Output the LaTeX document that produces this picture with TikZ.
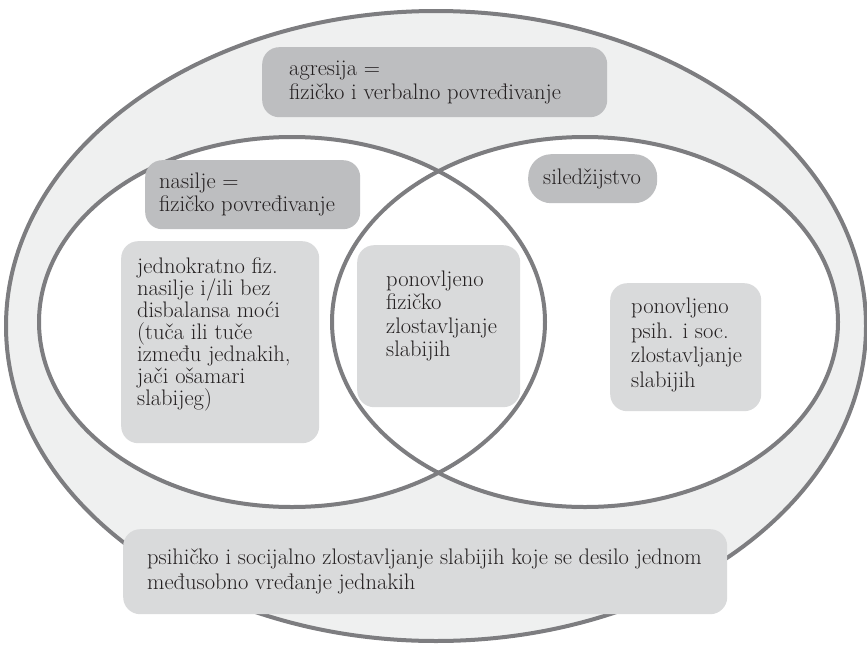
\documentclass[tikz,border=0pt]{standalone}
\usepackage{tikz}
\usetikzlibrary{positioning}
\definecolor{ringgr}{rgb}{0.49,0.49,0.5}
\definecolor{bandgr}{rgb}{0.937,0.941,0.941}
\definecolor{darkgr}{rgb}{0.741,0.745,0.753}
\definecolor{lightgr}{rgb}{0.851,0.855,0.859}
\definecolor{txtbl}{rgb}{0.137,0.122,0.125}
\tikzstyle{every node}=[font=\fontsize{22.5}{23.5}\selectfont]
\tikzstyle{ring}=[line width=4pt,color=ringgr]
\tikzstyle{darkbox}=[fill=darkgr,rounded corners=17pt,inner sep=0pt,anchor=north west]
\tikzstyle{lightbox}=[fill=lightgr,rounded corners=17pt,inner sep=0pt,anchor=north west]
\tikzstyle{txt}=[align=left,inner sep=0pt,text=txtbl]

\begin{document}
\begin{tikzpicture}[line cap=round,line join=round,x=1pt,y=-1pt]
                \useasboundingbox (0,0) rectangle (867,645);
                \draw [ring,fill=bandgr] (436,326) ellipse [x radius=430pt, y radius=315pt];
                \fill [white] (292,322) ellipse [x radius=253pt, y radius=185pt];
                \fill [white] (585,322) ellipse [x radius=253pt, y radius=185pt];
                \draw [ring] (292,322) ellipse [x radius=253pt, y radius=185pt];
                \draw [ring] (585,322) ellipse [x radius=253pt, y radius=185pt];
                \node [darkbox,minimum width=345pt,minimum height=70pt] (agrbox) at (262,47) {};
                \node [txt,right=27pt of agrbox.west,font=\fontsize{22.5}{24}\selectfont] (agrtxt) {agresija =\\fizičko i verbalno povređivanje};
                \node [darkbox,minimum width=215pt,minimum height=69pt] (nasbox) at (145,160) {};
                \node [txt,right=14pt of nasbox.west] (nastxt) {nasilje =\\fizičko povređivanje};
                \node [darkbox,rounded corners=23pt,minimum width=129pt,minimum height=49pt] (silbox) at (528,154) {};
                \node [txt,right=15pt of silbox.west] (siltxt) {siledžijstvo};
                \node [lightbox,minimum width=198pt,minimum height=202pt] (jedbox) at (121,241) {};
                \node [txt,right=16pt of jedbox.west,yshift=8pt,font=\fontsize{22.5}{22}\selectfont] (jedtxt) {jednokratno fiz.\\nasilje i/ili bez\\disbalansa moći\\(tuča ili tuče\\između jednakih,\\jači ošamari\\slabijeg)};
                \node [lightbox,minimum width=163pt,minimum height=162pt] (fizbox) at (357,245) {};
                \node [txt,right=29pt of fizbox.west,yshift=10pt] (fiztxt) {ponovljeno\\fizičko\\zlostavljanje\\slabijih};
                \node [lightbox,minimum width=151pt,minimum height=128pt] (psibox) at (610,283) {};
                \node [txt,right=21pt of psibox.west,yshift=2pt,font=\fontsize{22.5}{24.5}\selectfont] (psitxt) {ponovljeno\\psih. i soc.\\zlostavljanje\\slabijih};
                \node [lightbox,minimum width=604pt,minimum height=85pt] (jedbot) at (123,529) {};
                \node [txt,right=24pt of jedbot.west,font=\fontsize{22.5}{25}\selectfont] (bottxt) {psihičko i socijalno zlostavljanje slabijih koje se desilo jednom\\međusobno vređanje jednakih};
            \end{tikzpicture}
\end{document}
